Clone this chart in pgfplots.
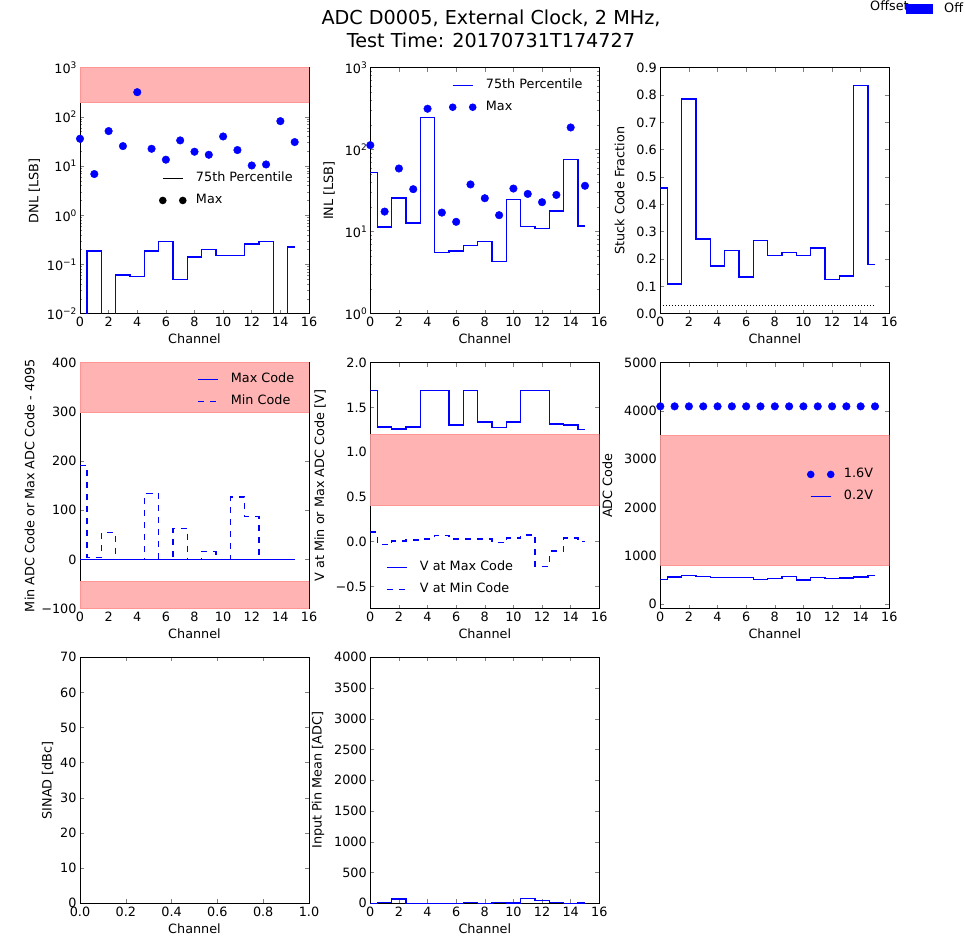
\documentclass[border=0pt]{standalone}
\usepackage{fontspec}
\setmainfont{DejaVu Sans}
\usepackage{pgfplots}
\pgfplotsset{compat=1.18}

\definecolor{band}{RGB}{255,179,179}
\definecolor{bandedge}{RGB}{255,150,150}
\definecolor{pblue}{RGB}{0,0,255}
\newcommand{\fs}{\fontsize{12.8}{15.4}\selectfont}
\newcommand{\sups}[1]{\raisebox{5pt}{\fontsize{9}{9}\selectfont #1}}

\pgfplotsset{
  panel/.style={
    scale only axis, width=229pt, height=246pt,
    anchor=north west,
    font=\fs,
    tick label style={font=\fs},
    label style={font=\fs},
    xmin=0, xmax=16, xtick={0,2,...,16},
    xlabel={Channel},
    axis line style={line width=0.8pt},
    tick style={line width=0.6pt},
    major tick length=4pt,
    minor tick length=2pt,
    legend style={draw=none, fill=none, inner sep=0pt, row sep=10pt, column sep=12.5pt,
      nodes={inner sep=0pt, text height=9.5pt, text depth=2.5pt, font=\fs}},
    legend cell align=left,
    /pgf/number format/assume math mode=true,
  },
  stepline/.style={draw=pblue, color=pblue, line width=1.4pt, const plot mark mid, mark=none, forget plot},
  dots/.style={only marks, mark=*, mark size=3.8pt, color=pblue, mark options={draw=pblue, fill=pblue}, forget plot},
  bandfill/.style={fill=band, draw=bandedge, line width=0.8pt, forget plot},
  lineleg/.style={legend image code/.code={\draw[##1] (0pt,0pt) -- (20pt,0pt);}},
  dotleg/.style={legend image code/.code={\pgfpathmoveto{\pgfpoint{0pt}{0pt}}\pgfpathlineto{\pgfpoint{20pt}{0pt}}\pgfusepath{discard}\fill[##1, draw=none, overlay] (0pt,0pt) circle (3.8pt); \fill[##1, draw=none, overlay] (20pt,0pt) circle (3.8pt);}},
}

\begin{document}
\begin{tikzpicture}
\useasboundingbox (0pt,0pt) rectangle (965pt,-942pt);

% Title
\node[align=center, font=\fontsize{19.2}{22.5}\selectfont] at (491pt,-29pt) {ADC D0005, External Clock, 2 MHz,\\Test Time: 20170731T174727};

% ---------- Row 1 ----------
% DNL
\begin{axis}[panel, at={(80pt,-67.7pt)},
  ymode=log, ymin=1e-2, ymax=1e3,
  ytick={1e-2,1e-1,1,10,100,1000},
  yticklabels={10\sups{−2},10\sups{−1},10\sups{0},10\sups{1},10\sups{2},10\sups{3}},
  ylabel={DNL [LSB]},
  legend style={at={(axis description cs:0.3576,0.575)}, anchor=north west}]
\addplot[bandfill] coordinates {(0,200) (16,200) (16,1000) (0,1000)} -- cycle;
\addplot[stepline] coordinates {(0,1e-4) (1,0.187) (2,1e-4) (3,0.061) (4,0.057) (5,0.187) (6,0.294) (7,0.0495) (8,0.143) (9,0.202) (10,0.153) (11,0.153) (12,0.26) (13,0.294) (14,1e-4) (15,0.225)};
\addplot[dots] coordinates {(0,36) (1,6.9) (2,51.5) (3,25.5) (4,318) (5,22.5) (6,13.5) (7,33.3) (8,19.6) (9,17) (10,40) (11,21.2) (12,10.3) (13,10.8) (14,82) (15,30.8)};
\addlegendimage{lineleg, draw=black, line width=1.4pt}
\addlegendentry{75th Percentile}
\addlegendimage{dotleg, fill=black}
\addlegendentry{Max}
\end{axis}

% INL
\begin{axis}[panel, at={(370.3pt,-67.7pt)},
  ymode=log, ymin=1, ymax=1e3,
  ytick={1,10,100,1000},
  yticklabels={10\sups{0},10\sups{1},10\sups{2},10\sups{3}},
  ylabel={INL [LSB]}, ylabel shift=3pt,
  legend style={at={(axis description cs:0.356,0.954)}, anchor=north west}]
\addplot[stepline] coordinates {(0,52.7) (1,11.4) (2,25.8) (3,12.8) (4,247) (5,5.57) (6,5.84) (7,6.78) (8,7.65) (9,4.32) (10,24.7) (11,11.65) (12,10.9) (13,17.8) (14,75.9) (15,11.75)};
\addplot[dots] coordinates {(0,113.6) (1,17.6) (2,59) (3,33) (4,316) (5,17.1) (6,13.2) (7,37.7) (8,25.6) (9,15.9) (10,33.6) (11,28.9) (12,22.9) (13,28.1) (14,186.7) (15,36.3)};
\addlegendimage{lineleg, draw=pblue, line width=1.4pt}
\addlegendentry{75th Percentile}
\addlegendimage{dotleg, fill=pblue}
\addlegendentry{Max}
\end{axis}

% Stuck code
\begin{axis}[panel, at={(660.3pt,-67.7pt)},
  ymin=0, ymax=0.9,
  ytick={0,0.1,0.2,0.3,0.4,0.5,0.6,0.7,0.8,0.9},
  yticklabels={0.0,0.1,0.2,0.3,0.4,0.5,0.6,0.7,0.8,0.9},
  ylabel={Stuck Code Fraction}, ylabel shift=5pt]
\addplot[stepline] coordinates {(0,0.46) (1,0.108) (2,0.786) (3,0.273) (4,0.175) (5,0.231) (6,0.135) (7,0.267) (8,0.212) (9,0.225) (10,0.214) (11,0.24) (12,0.125) (13,0.138) (14,0.834) (15,0.181)};
\addplot[draw=black, line width=0.8pt, dash pattern=on 1pt off 2pt, forget plot] coordinates {(0,0.03) (15,0.03)};
\end{axis}

% ---------- Row 2 ----------
% Min/Max ADC code
\begin{axis}[panel, at={(80pt,-362.7pt)},
  ymin=-100, ymax=400,
  ytick={-100,0,100,200,300,400},
  yticklabels={−100,0,100,200,300,400},
  ylabel={Min ADC Code or Max ADC Code - 4095},
  legend style={at={(axis description cs:0.51,0.958)}, anchor=north west}]
\addplot[bandfill] coordinates {(0,300) (16,300) (16,400) (0,400)} -- cycle;
\addplot[bandfill] coordinates {(0,-100) (16,-100) (16,-45) (0,-45)} -- cycle;
\addplot[stepline] coordinates {(0,0) (1,0) (2,0) (3,0) (4,0) (5,0) (6,0) (7,0) (8,0) (9,0) (10,0) (11,0) (12,0) (13,0) (14,0) (15,0)};
\addplot[stepline, dash pattern=on 6pt off 6pt] coordinates {(0,191) (1,4) (2,55) (3,0) (4,0) (5,134) (6,0) (7,63.5) (8,0) (9,16.7) (10,0) (11,127) (12,88) (13,0) (14,0) (15,0)};
\addlegendimage{lineleg, draw=pblue, line width=1.4pt}
\addlegendentry{Max Code}
\addlegendimage{lineleg, draw=pblue, line width=1.4pt, dash pattern=on 6pt off 6pt}
\addlegendentry{Min Code}
\end{axis}

% V at min/max
\begin{axis}[panel, at={(370.3pt,-362.7pt)},
  ymin=-0.75, ymax=2.0,
  ytick={-0.5,0,0.5,1,1.5,2},
  yticklabels={−0.5,0.0,0.5,1.0,1.5,2.0},
  ylabel={V at Min or Max ADC Code [V]}, ylabel shift=3pt,
  legend style={at={(axis description cs:0.068,0.193)}, anchor=north west}]
\addplot[bandfill] coordinates {(0,0.4) (16,0.4) (16,1.2) (0,1.2)} -- cycle;
\addplot[stepline] coordinates {(0,1.692) (1,1.283) (2,1.261) (3,1.283) (4,1.69) (5,1.69) (6,1.305) (7,1.69) (8,1.335) (9,1.276) (10,1.335) (11,1.69) (12,1.69) (13,1.316) (14,1.305) (15,1.25)};
\addplot[stepline, dash pattern=on 6pt off 6pt] coordinates {(0,0.109) (1,-0.032) (2,0.009) (3,0.02) (4,0.03) (5,0.068) (6,0.03) (7,0.03) (8,0.03) (9,-0.013) (10,0.039) (11,0.076) (12,-0.277) (13,-0.106) (14,0.039) (15,0.0)};
\addlegendimage{lineleg, draw=pblue, line width=1.4pt}
\addlegendentry{V at Max Code}
\addlegendimage{lineleg, draw=pblue, line width=1.4pt, dash pattern=on 6pt off 6pt}
\addlegendentry{V at Min Code}
\end{axis}

% ADC code
\begin{axis}[panel, at={(660.3pt,-362.7pt)},
  ymin=-100, ymax=5000,
  ytick={0,1000,2000,3000,4000,5000},
  yticklabels={0,1000,2000,3000,4000,5000},
  ylabel={ADC Code}, ylabel shift=5pt,
  legend style={at={(axis description cs:0.653,0.571)}, anchor=north west}]
\addplot[bandfill] coordinates {(0,800) (16,800) (16,3500) (0,3500)} -- cycle;
\addplot[dots] coordinates {(0,4095) (1,4095) (2,4095) (3,4095) (4,4095) (5,4095) (6,4095) (7,4095) (8,4095) (9,4095) (10,4095) (11,4095) (12,4095) (13,4095) (14,4095) (15,4095)};
\addplot[stepline] coordinates {(0,510) (1,559) (2,593) (3,566) (4,545) (5,545) (6,545) (7,510) (8,524) (9,566) (10,497) (11,545) (12,524) (13,538) (14,559) (15,586)};
\addlegendimage{dotleg, fill=pblue}
\addlegendentry{1.6V}
\addlegendimage{lineleg, draw=pblue, line width=1.4pt}
\addlegendentry{0.2V}
\end{axis}

% ---------- Row 3 ----------
% SINAD (empty)
\begin{axis}[panel, at={(80pt,-657.3pt)},
  xmin=0, xmax=1,
  xtick={0,0.2,0.4,0.6,0.8,1},
  xticklabels={0.0,0.2,0.4,0.6,0.8,1.0},
  ymin=0, ymax=70,
  ytick={0,10,...,70},
  yticklabels={0,10,20,30,40,50,60,70},
  ylabel={SINAD [dBc]}]
\end{axis}

% Input pin mean
\begin{axis}[panel, at={(370.3pt,-657.3pt)},
  ymin=0, ymax=4000,
  ytick={0,500,...,4000},
  yticklabels={0,500,1000,1500,2000,2500,3000,3500,4000},
  ylabel={Input Pin Mean [ADC]}, ylabel shift=3pt]
\addplot[stepline] coordinates {(0,0) (1,16) (2,70) (3,0) (4,0) (5,0) (6,0) (7,11) (8,0) (9,11) (10,5) (11,76) (12,49) (13,16) (14,0) (15,5)};
\end{axis}

% Figure legend (clipped at the right edge)
\begin{scope}
\clip (0pt,0pt) rectangle (965pt,-942pt);
\node[anchor=base west, inner sep=0pt, font=\fs] at (870pt,-10.3pt) {Offset};
\fill[pblue] (906pt,-4pt) rectangle (933pt,-14pt);
\node[anchor=base west, inner sep=0pt, font=\fs] at (944pt,-12.7pt) {Off};
\end{scope}

\end{tikzpicture}
\end{document}
